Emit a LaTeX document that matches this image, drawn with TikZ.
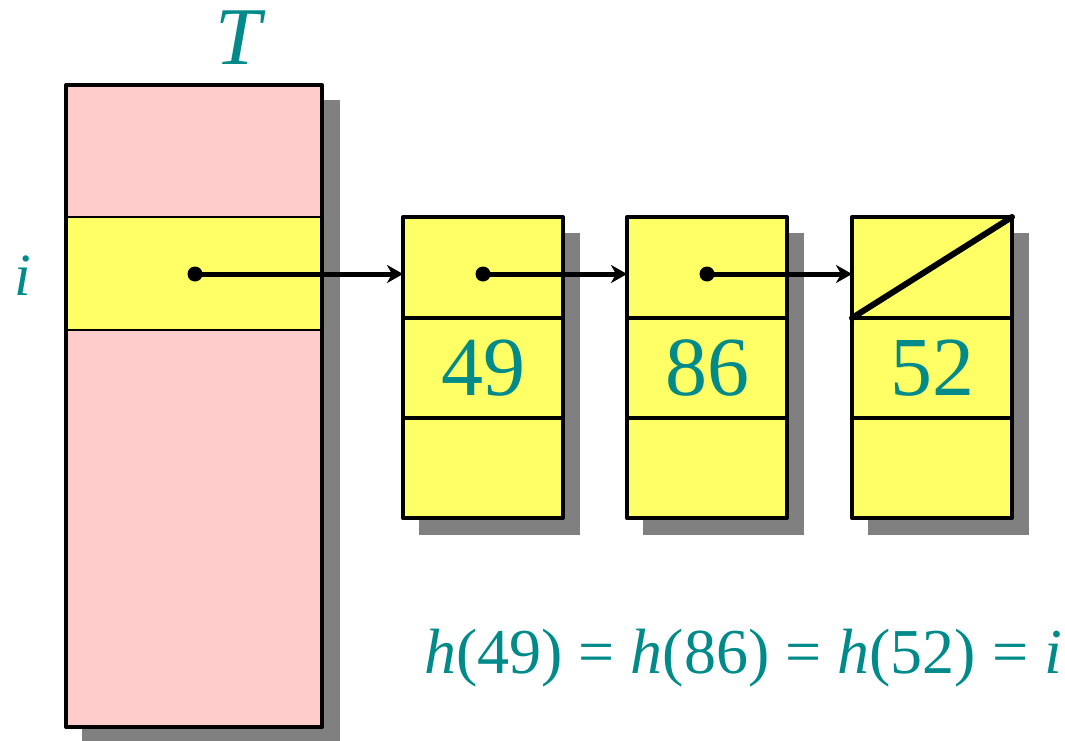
\documentclass[tikz,border=0pt]{standalone}
\usepackage{fontspec}
\setmainfont{LiberationSerif}[Extension = .ttf, UprightFont = *-Regular, ItalicFont = *-Italic]
\usetikzlibrary{arrows.meta}
\definecolor{tealtext}{RGB}{0,138,138}
\definecolor{pinkcell}{RGB}{255,204,204}
\definecolor{yellowcell}{RGB}{255,255,102}
\definecolor{shadowgray}{RGB}{128,128,128}

\begin{document}
\begin{tikzpicture}[x = 1pt, y = -1pt, line join = round,
	cell/.style = {draw, line width = 4pt, fill = yellowcell, outer sep = 0pt,
		minimum width = 160pt, minimum height = 100pt, anchor = north west},
	tealtext/.style = {text = tealtext, inner sep = 0pt},
	dot/.style = {circle, fill = black, inner sep = 0pt, minimum size = 15pt},
	link/.style = {line width = 5pt, -{Stealth[length = 16pt, width = 18pt, inset = 5pt]}}]
	\useasboundingbox (0, 0) rectangle (1065, 741);
	\fill[shadowgray] (82, 100) rectangle (340, 760);
	\fill[pinkcell] (66, 85) rectangle (322, 727);
	\draw[line width = 2pt, fill = yellowcell] (66, 217) rectangle (322, 330);
	\draw[line width = 4pt] (66, 85) rectangle (322, 727);
	\node[tealtext, anchor = base, font = \fontsize{82}{82}\selectfont] (T) at (241, 65) {\textit{T}};
	\node[tealtext, anchor = base, font = \fontsize{60}{60}\selectfont] (i) at (23, 295) {\textit{i}};
	\node[dot] (d0) at (195, 274) {};
	\foreach \n/\x/\v in {1/403/49, 2/627/86, 3/852/52}{
		\fill[shadowgray] (\x + 16, 233) rectangle (\x + 177, 535);
		\node[cell, minimum height = 101pt] (p\n) at (\x, 217) {};
		\node[cell, font = \fontsize{84}{84}\selectfont, text = tealtext] (v\n) at (\x, 318) {\v};
		\node[cell] (e\n) at (\x, 418) {};
		};
	\node[dot] (d1) at (483, 274) {};
	\node[dot] (d2) at (707, 274) {};
	\draw[line width = 6pt, line cap = round] (p3.south west) -- (p3.north east);
	\draw[link] (d0.center) -- (d0 -| p1.west);
	\draw[link] (d1.center) -- (d1 -| p2.west);
	\draw[link] (d2.center) -- (d2 -| p3.west);
	\node[tealtext, anchor = base, font = \fontsize{64}{64}\selectfont] (eq) at (743, 673)
		{\textit{h}(49) = \textit{h}(86) = \textit{h}(52) = \textit{i}};
\end{tikzpicture}
\end{document}
